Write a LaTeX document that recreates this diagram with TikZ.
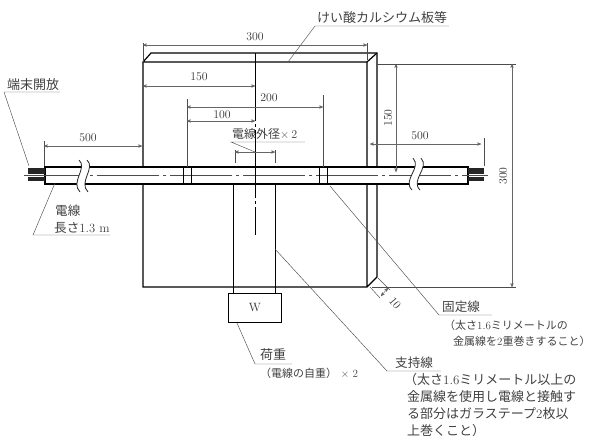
\documentclass[tikz,border=0pt]{standalone}
\usepackage{fontspec}
\usepackage{tikz}
\usetikzlibrary{arrows,positioning}
\newfontfamily\jp{Noto Sans CJK JP}
\begin{document}
\begin{tikzpicture}[x=1pt,y=-1pt]
\tikzstyle{thickline}=[line width=1.2pt, black]
\tikzstyle{thinline}=[line width=0.45pt, black!70]
\tikzstyle{breakline}=[line width=0.8pt, black!85]
\tikzstyle{dimline}=[line width=0.45pt, black!60, <->, >=stealth']
\tikzstyle{dimtext}=[inner sep=0pt, font=\fontsize{11.8}{11.8}\selectfont, text=black!80]
\tikzstyle{jptext}=[inner sep=0pt, anchor=west, font=\jp\fontsize{12.6}{12.6}\selectfont, text=black!75]
\tikzstyle{jpsmall}=[jptext, font=\jp\fontsize{11}{11}\selectfont]
\tikzstyle{jpbig}=[jptext, font=\jp\fontsize{13}{13}\selectfont]
\useasboundingbox (0,0) rectangle (606,445);
% board
\coordinate (ftl) at (143,62);
\coordinate (ftr) at (367,62);
\coordinate (fbl) at (143,287);
\coordinate (fbr) at (367,287);
\coordinate (btl) at (151,53);
\coordinate (btr) at (377,53);
\coordinate (bbr) at (377,277);
\draw[thickline] (ftl) -- (btl) -- (btr) -- (bbr) -- (fbr) -- (fbl) -- (ftl) -- (ftr) -- (fbr);
\draw[thickline] (ftr) -- (btr);
% cable, white over the board
\fill[white] (45,167) rectangle (468,184);
\draw[thickline] (45,167) rectangle (468,184);
\fill[black!85] (28,168) rectangle (45,173.5);
\fill[black!85] (28,177) rectangle (45,181);
\fill[black!85] (468,168) rectangle (484,173.5);
\fill[black!85] (468,177) rectangle (484,181);
\draw[thinline, line width=0.7pt, dash pattern=on 62pt off 4pt on 3pt off 4pt] (24,175) -- (488,175);
% breaks
\fill[white] (79,160) .. controls (88,168) and (70,182) .. (80,192) -- (88,192) .. controls (78,182) and (96,168) .. (87,160) -- cycle;
\draw[breakline] (79,160) .. controls (88,168) and (70,182) .. (80,192);
\draw[breakline] (87,160) .. controls (96,168) and (78,182) .. (88,192);
\fill[white] (413,158) .. controls (422,168) and (402,180) .. (412,190) -- (420,190) .. controls (410,180) and (430,168) .. (421,158) -- cycle;
\draw[breakline] (413,158) .. controls (422,168) and (402,180) .. (412,190);
\draw[breakline] (421,158) .. controls (430,168) and (410,180) .. (420,190);
% bands
\draw[line width=0.7pt] (183,167) -- (183,184) (191,167) -- (191,184);
\draw[line width=0.7pt] (319,167) -- (319,184) (327,167) -- (327,184);
% center line
\draw[line width=0.7pt, dash pattern=on 68pt off 3pt on 3pt off 3pt] (255,53) -- (255,235);
% weight and support wire
\node[draw, line width=0.7pt, minimum width=53pt, minimum height=29pt, inner sep=0pt, text=black!80, font=\fontsize{12}{12}\selectfont] (weight) at (255,308) {W};
\draw[line width=0.8pt] (233,184) -- (233,293);
\draw[line width=0.8pt] (275,184) -- (275,293);
% dimensions
\draw[thinline] (143,43) -- (143,62);
\draw[thinline] (367,43) -- (367,60);
\draw[dimline] (143,45) -- (367,45);
\node[dimtext] (d300a) at (255,37) {300};
\draw[dimline] (143,86) -- (255,86);
\node[dimtext] (d150a) at (199,77) {150};
\draw[thinline] (187,99) -- (187,167);
\draw[thinline] (323,95) -- (323,167);
\draw[dimline] (187,107) -- (323,107);
\node[dimtext] (d200) at (269,98) {200};
\draw[dimline] (187,121) -- (255,121);
\node[dimtext] (d100) at (222,115) {100};
\draw[thinline] (235,150) -- (235,163);
\draw[thinline] (275,150) -- (275,163);
\draw[dimline] (235,152) -- (275,152);
\draw[thinline] (44,141) -- (44,166);
\draw[dimline] (44,146) -- (142,146);
\node[dimtext] (d500a) at (88,138) {500};
\draw[thinline] (484,138) -- (484,166);
\draw[dimline] (370,144) -- (481,144);
\node[dimtext] (d500b) at (420,136) {500};
\draw[dimline] (396,64) -- (396,172);
\node[dimtext, rotate=90] (d150b) at (388,118) {150};
\draw[thinline] (377,64) -- (516,64);
\draw[thinline] (372,287) -- (516,287);
\draw[dimline] (512,64) -- (512,287);
\node[dimtext, rotate=90] (d300b) at (503,176) {300};
\draw[thinline] (370,287) -- (380,298);
\draw[thinline] (378,278) -- (390,290);
\draw[dimline] (381,296) -- (388,288);
\node[dimtext, rotate=-50] (d10) at (395,303) {10};
% labels
\node[jpbig] (open) at (7,85) {端末開放};
\draw[thinline] (29,166) -- (4,92) -- (60,92);
\node[jptext] (cable) at (55,211) {電線};
\node[jptext] (length) at (54,228) {長さ{\rmfamily 1.3 m}};
\draw[thinline] (55,183) -- (33,235) -- (110,235);
\node[jpbig] (board) at (317,18) {けい酸カルシウム板等};
\draw[thinline] (288,62) -- (315,26) -- (449,26);
\node[jptext, font=\jp\fontsize{12}{12}\selectfont] (twice) at (232,134) {電線外径{\rmfamily ×\,2}};
\draw[thinline] (255,152) -- (231,142) -- (305,142);
\node[jptext] (fix) at (442,307) {固定線};
\draw[thinline] (330,186) -- (439,315) -- (492,315);
\node[jpsmall] (fixa) at (444,325) {（太さ{\rmfamily 1.6}ミリメートルの};
\node[jpsmall] (fixb) at (453,341) {金属線を{\rmfamily 2}重巻きすること）};
\node[jpbig] (load) at (260,355) {荷重};
\draw[thinline] (237,323) -- (255,364) -- (292,364);
\node[jpsmall] (loada) at (260,373) {（電線の自重）{\rmfamily\ ×\ 2}};
\node[jptext] (supp) at (395,363) {支持線};
\draw[thinline] (275,249) -- (387,371) -- (441,371);
\node[jpbig] (suppa) at (404,380) {（太さ{\rmfamily 1.6}ミリメートル以上の};
\node[jpbig] (suppb) at (407,397) {金属線を使用し電線と接触す};
\node[jpbig] (suppc) at (407,414) {る部分はガラステープ{\rmfamily 2}枚以};
\node[jpbig] (suppd) at (407,431) {上巻くこと）};
\end{tikzpicture}
\end{document}
